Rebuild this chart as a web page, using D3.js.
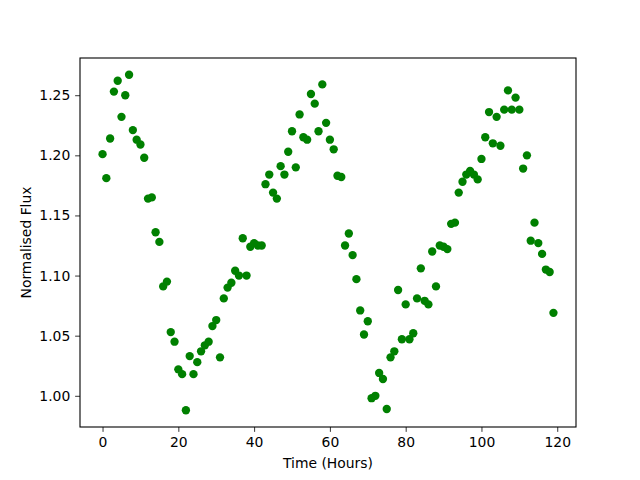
<!DOCTYPE html>
<html><head><meta charset="utf-8">
<script src="https://cdn.jsdelivr.net/npm/d3@7"></script>
<style>body{margin:0;background:#fff}svg{display:block}text{font-family:"DejaVu Sans",sans-serif;fill:#000}</style>
</head><body><svg id="c" width="640" height="480"></svg>
<script>
const hours = d3.range(0, 120);
const flux = [
1.201,1.181,1.214,1.253,1.262,1.232,1.250,1.267,1.221,1.213,
1.209,1.198,1.164,1.165,1.136,1.128,1.091,1.095,1.053,1.045,
1.022,1.018,0.988,1.033,1.018,1.028,1.037,1.042,1.045,1.058,
1.063,1.032,1.081,1.090,1.094,1.104,1.100,1.131,1.100,1.124,
1.127,1.125,1.125,1.176,1.184,1.169,1.164,1.191,1.184,1.203,
1.220,1.190,1.234,1.215,1.213,1.251,1.243,1.220,1.259,1.227,
1.213,1.205,1.183,1.182,1.125,1.135,1.117,1.097,1.071,1.051,
1.062,0.998,1.000,1.019,1.014,0.989,1.032,1.037,1.088,1.047,
1.076,1.047,1.052,1.081,1.106,1.079,1.076,1.120,1.091,1.125,
1.124,1.122,1.143,1.144,1.169,1.178,1.184,1.187,1.184,1.180,
1.197,1.215,1.236,1.210,1.232,1.208,1.238,1.254,1.238,1.248,
1.238,1.189,1.200,1.129,1.144,1.127,1.118,1.105,1.103,1.069];
const xTicks = [0,20,40,60,80,100,120];
const yTicks = [1.00,1.05,1.10,1.15,1.20,1.25];

const L=80,R=576,T=58,B=427;
const svg=d3.select("#c");
const xmin=d3.min(hours),xmax=d3.max(hours),ymin=d3.min(flux),ymax=d3.max(flux);
const xp=(xmax-xmin)*0.05, yp=(ymax-ymin)*0.05;
const x=d3.scaleLinear().domain([xmin-xp,xmax+xp]).range([L,R]);
const y=d3.scaleLinear().domain([ymin-yp,ymax+yp]).range([B,T]);

svg.append("g").selectAll("circle").data(hours).join("circle")
 .attr("cx",(d,i)=>x(d)).attr("cy",(d,i)=>y(flux[i])).attr("r",4.17)
 .attr("fill","#008000");

const xa=svg.append("g").attr("transform",`translate(0,${B})`)
 .call(d3.axisBottom(x).tickValues(xTicks).tickSize(4.86).tickPadding(4.9).tickFormat(d3.format("d")));
const ya=svg.append("g").attr("transform",`translate(${L},0)`)
 .call(d3.axisLeft(y).tickValues(yTicks).tickSize(4.86).tickPadding(4.9).tickFormat(d3.format(".2f")));
[xa,ya].forEach(a=>{a.select(".domain").remove();a.selectAll("line").attr("stroke","#000").attr("stroke-width",0.8);
 a.selectAll("text").attr("font-size","13.9px").attr("font-family","DejaVu Sans").attr("fill","#000");});

svg.append("rect").attr("x",L).attr("y",T).attr("width",R-L).attr("height",B-T)
 .attr("fill","none").attr("stroke","#000").attr("stroke-width",1.1);

svg.append("text").attr("x",(L+R)/2).attr("y",468).attr("text-anchor","middle")
 .attr("font-size","13.9px").text("Time (Hours)");
svg.append("text").attr("transform",`translate(31,${(T+B)/2}) rotate(-90)`).attr("text-anchor","middle")
 .attr("font-size","13.9px").text("Normalised Flux");
</script></body></html>
